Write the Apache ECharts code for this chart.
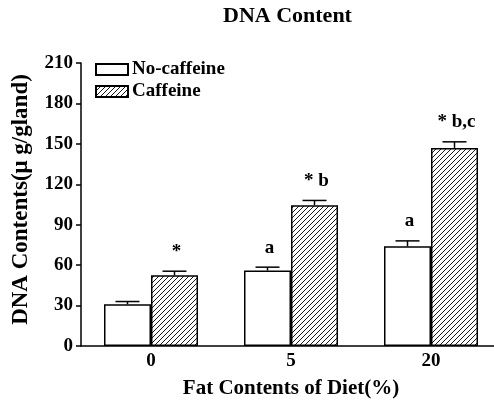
<!DOCTYPE html>
<html>
<head>
<meta charset="utf-8">
<script src="https://cdn.jsdelivr.net/npm/echarts@6/dist/echarts.min.js"></script>
<style>
  html, body { margin: 0; padding: 0; background: #fff; }
  #chart { width: 494px; height: 401px; }
</style>
</head>
<body>
<div id="chart"></div>
<script>
  const fatLevels = ['0', '5', '20'];
  const noCaffeine = [31, 56, 74];
  const noCaffeineErr = [2, 2.5, 4];
  const noCaffeineMarks = ['', 'a', 'a'];
  const caffeine = [52.5, 104.5, 147];
  const caffeineErr = [3, 3.5, 4.5];
  const caffeineMarks = ['*', '* b', '* b,c'];
  const yTicks = [0, 30, 60, 90, 120, 150, 180, 210];

  const font = 'Liberation Serif, Times New Roman, serif';
  const barW = 47;

  // diagonal hatch for the caffeine bars
  const hatch = document.createElement('canvas');
  hatch.width = 5;
  hatch.height = 5;
  const ctx = hatch.getContext('2d');
  ctx.fillStyle = '#fff';
  ctx.fillRect(0, 0, 5, 5);
  ctx.strokeStyle = '#000';
  ctx.lineWidth = 0.9;
  ctx.beginPath();
  ctx.moveTo(-1, 6); ctx.lineTo(6, -1);
  ctx.moveTo(-1, 1); ctx.lineTo(1, -1);
  ctx.moveTo(4, 6); ctx.lineTo(6, 4);
  ctx.stroke();

  function errorSeries(name, values, errs, marks, offset) {
    return {
      name: name + ' err',
      type: 'custom',
      z: 5,
      data: values.map((v, i) => [i, v, errs[i]]),
      renderItem: function (params, api) {
        const i = params.dataIndex;
        const base = api.coord([api.value(0), api.value(1)]);
        const top = api.coord([api.value(0), api.value(1) + api.value(2)]);
        const x = base[0] + offset;
        return {
          type: 'group',
          children: [
            { type: 'line', shape: { x1: x, y1: base[1], x2: x, y2: top[1] }, style: { stroke: '#000', lineWidth: 1.5 } },
            { type: 'line', shape: { x1: x - 12, y1: top[1], x2: x + 12, y2: top[1] }, style: { stroke: '#000', lineWidth: 1.5 } },
            { type: 'text', x: x + 2, y: top[1] - 10, style: { text: marks[i], font: 'bold 19px ' + font, fill: '#000', align: 'center', verticalAlign: 'bottom' } }
          ]
        };
      }
    };
  }

  const chart = echarts.init(document.getElementById('chart'));
  chart.setOption({
    animation: false,
    backgroundColor: '#fff',
    title: {
      text: 'DNA Content',
      left: 223,
      top: 5,
      padding: 0,
      textStyle: { fontFamily: font, fontWeight: 'bold', fontSize: 22, color: '#000' }
    },
    legend: {
      orient: 'vertical',
      left: 95,
      top: 60,
      padding: 0,
      icon: 'rect',
      itemWidth: 32,
      itemHeight: 11,
      itemGap: 3,
      data: ['No-caffeine', 'Caffeine'],
      textStyle: { fontFamily: font, fontWeight: 'bold', fontSize: 19, lineHeight: 14, color: '#000', padding: [0, 0, 0, -1] }
    },
    grid: { left: 81, top: 63, width: 420, height: 283, outerBoundsMode: 'none' },
    xAxis: {
      type: 'category',
      data: fatLevels,
      name: 'Fat Contents of Diet(%)',
      nameLocation: 'middle',
      nameGap: 32,
      nameTextStyle: { fontFamily: font, fontWeight: 'bold', fontSize: 21, color: '#000' },
      axisLine: { lineStyle: { color: '#000', width: 1.5 } },
      axisTick: { show: false },
      axisLabel: { fontFamily: font, fontWeight: 'bold', fontSize: 19, color: '#000', margin: 6 }
    },
    yAxis: {
      type: 'value',
      min: 0,
      max: 210,
      interval: 30,
      name: 'DNA Contents(\u03bc g/gland)',
      nameLocation: 'middle',
      nameGap: 48,
      nameTextStyle: { fontFamily: font, fontWeight: 'bold', fontSize: 23, color: '#000', padding: [0, 0, 0, 10] },
      axisLine: { show: true, lineStyle: { color: '#000', width: 1.5 } },
      axisTick: { show: true, length: 5, lineStyle: { color: '#000', width: 1.5 } },
      axisLabel: { fontFamily: font, fontWeight: 'bold', fontSize: 19, color: '#000', margin: 8,
        formatter: v => yTicks.includes(v) ? String(v) : '' },
      splitLine: { show: false }
    },
    series: [
      {
        name: 'No-caffeine',
        type: 'bar',
        barWidth: barW,
        barGap: '0%',
        data: noCaffeine,
        itemStyle: { color: '#fff', borderColor: '#000', borderWidth: 1.5 }
      },
      {
        name: 'Caffeine',
        type: 'bar',
        barWidth: barW,
        barGap: '0%',
        data: caffeine,
        itemStyle: { color: { image: hatch, repeat: 'repeat' }, borderColor: '#000', borderWidth: 1.5 }
      },
      errorSeries('No-caffeine', noCaffeine, noCaffeineErr, noCaffeineMarks, -barW / 2),
      errorSeries('Caffeine', caffeine, caffeineErr, caffeineMarks, barW / 2)
    ]
  });
</script>
</body>
</html>
